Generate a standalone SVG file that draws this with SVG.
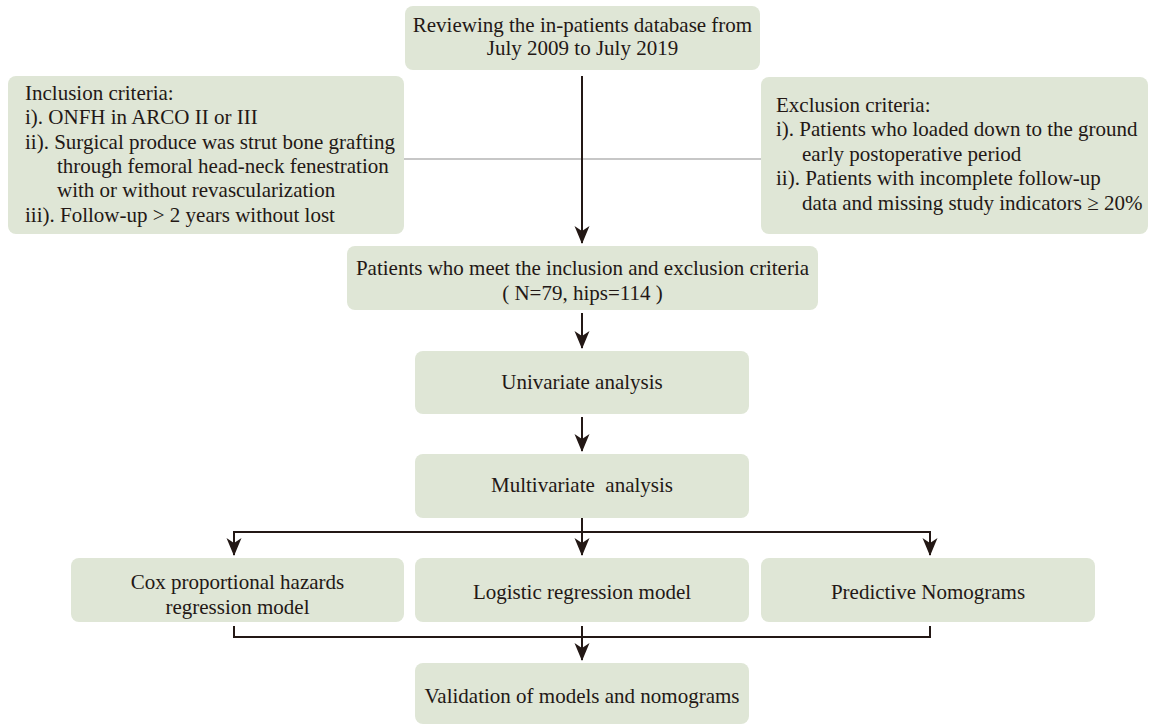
<svg xmlns="http://www.w3.org/2000/svg" width="1150" height="724" viewBox="0 0 1150 724">
<defs>
<style>
.box{fill:#dfe6d6;}
.t{font-family:"Liberation Serif","Times New Roman",serif;font-size:21px;fill:#231815;}
.c{text-anchor:middle;}
.ln{stroke:#231815;stroke-width:2;fill:none;}
.gl{stroke:#b4b4b4;stroke-width:1.6;fill:none;}
</style>
<marker id="ah" markerUnits="userSpaceOnUse" viewBox="-18 -8 19 16" refX="0" refY="0" markerWidth="19" markerHeight="16" orient="auto">
<path d="M1,0 L-17,-7.5 L-12,0 L-17,7.5 Z" fill="#231815"/>
</marker>
</defs>
<rect width="1150" height="724" fill="#ffffff"/>

<g id="connectors">
<line class="gl" x1="404" y1="159" x2="761" y2="159"/>
<line class="ln" x1="582" y1="76" x2="582" y2="243" marker-end="url(#ah)"/>
<line class="ln" x1="582" y1="313" x2="582" y2="348" marker-end="url(#ah)"/>
<line class="ln" x1="582" y1="417" x2="582" y2="451" marker-end="url(#ah)"/>
<line class="ln" x1="582" y1="518" x2="582" y2="555" marker-end="url(#ah)"/>
<line class="ln" x1="233" y1="532" x2="931" y2="532"/>
<line class="ln" x1="234" y1="531" x2="234" y2="555" marker-end="url(#ah)"/>
<line class="ln" x1="930" y1="531" x2="930" y2="555" marker-end="url(#ah)"/>
<path class="ln" d="M234,626 V637 H930 V626"/>
<line class="ln" x1="582" y1="626" x2="582" y2="660" marker-end="url(#ah)"/>
</g>

<g id="n-review">
<rect class="box" x="405" y="6" width="355" height="64" rx="8"/>
<text class="t c" x="582.5" y="32">Reviewing the in-patients database from</text>
<text class="t c" x="582.5" y="55">July 2009 to July 2019</text>
</g>

<g id="n-inclusion">
<rect class="box" x="8" y="76" width="396" height="158" rx="8"/>
<text class="t" x="25" y="100">Inclusion criteria:</text>
<text class="t" x="25" y="124">i). ONFH in ARCO II or III</text>
<text class="t" x="25" y="149">ii). Surgical produce was strut bone grafting</text>
<text class="t" x="57" y="173">through femoral head-neck fenestration</text>
<text class="t" x="57" y="197">with or without revascularization</text>
<text class="t" x="25" y="222">iii). Follow-up &gt; 2 years without lost</text>
</g>

<g id="n-exclusion">
<rect class="box" x="761" y="77" width="387" height="157" rx="8"/>
<text class="t" x="776" y="112">Exclusion criteria:</text>
<text class="t" x="776" y="136">i). Patients who loaded down to the ground</text>
<text class="t" x="802" y="161">early postoperative period</text>
<text class="t" x="776" y="185">ii). Patients with incomplete follow-up</text>
<text class="t" x="802" y="210">data and missing study indicators ≥ 20%</text>
</g>

<g id="n-patients">
<rect class="box" x="347" y="246" width="471" height="64" rx="8"/>
<text class="t c" x="582.5" y="275">Patients who meet the inclusion and exclusion criteria</text>
<text class="t c" x="582.5" y="300">( N=79, hips=114 )</text>
</g>

<g id="n-univariate">
<rect class="box" x="415" y="351" width="334" height="63" rx="8"/>
<text class="t c" x="582" y="389">Univariate analysis</text>
</g>

<g id="n-multivariate">
<rect class="box" x="415" y="454" width="334" height="64" rx="8"/>
<text class="t c" x="582" y="492" style="white-space:pre" xml:space="preserve">Multivariate  analysis</text>
</g>

<g id="n-cox">
<rect class="box" x="71" y="558" width="333" height="64" rx="8"/>
<text class="t c" x="237.5" y="589">Cox proportional hazards</text>
<text class="t c" x="237.5" y="614">regression model</text>
</g>

<g id="n-logistic">
<rect class="box" x="415" y="558" width="334" height="64" rx="8"/>
<text class="t c" x="582" y="599">Logistic regression model</text>
</g>

<g id="n-nomograms">
<rect class="box" x="761" y="558" width="334" height="64" rx="8"/>
<text class="t c" x="928" y="599">Predictive Nomograms</text>
</g>

<g id="n-validation">
<rect class="box" x="415" y="663" width="334" height="61" rx="8"/>
<text class="t c" x="582" y="703">Validation of models and nomograms</text>
</g>
</svg>
